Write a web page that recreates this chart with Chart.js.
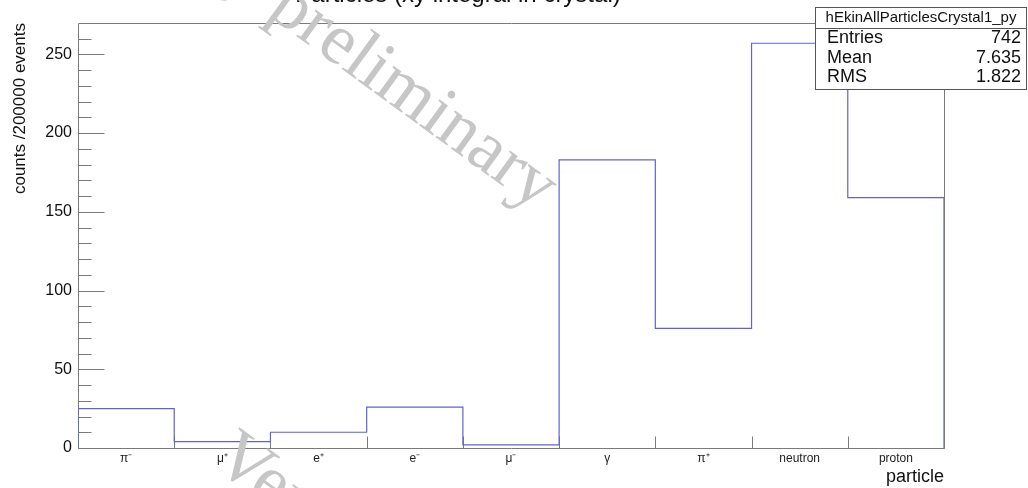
<!DOCTYPE html>
<html>
<head>
<meta charset="utf-8">
<script src="https://cdn.jsdelivr.net/npm/chart.js@4"></script>
<style>
  html, body { margin: 0; padding: 0; background: #ffffff; }
  #wrap { width: 1028px; height: 488px; position: relative; }
</style>
</head>
<body>
<div id="wrap"><canvas id="c"></canvas></div>
<script>
// Particle species (one histogram bin each) and their counts
const particles = ['π⁻', 'μ⁺', 'e⁺', 'e⁻', 'μ⁻', 'γ', 'π⁺', 'neutron', 'proton'];
const counts = [25, 4, 10, 26, 2, 183, 76, 257, 159];
const yTickValues = [0, 50, 100, 150, 200, 250];

// Statistics box
const statsName = 'hEkinAllParticlesCrystal1_py';
const statsLabels = ['Entries', 'Mean', 'RMS'];
const statsValues = ['742', '7.635', '1.822'];

const histTitle = 'Particles (xy integral in crystal)';
const watermark = 'Very preliminary';

const SANS = '"Liberation Sans", Arial, Helvetica, sans-serif';
const SERIF = '"Liberation Serif", "Times New Roman", serif';
const FRAME = '#7a7a7a';
const LINE = '#6262d4';

// Step outline of the histogram: bin i covers [i+1, i+2)
const stepPoints = [{ x: 1, y: 0 }]
  .concat(counts.map((c, i) => ({ x: i + 1, y: c })))
  .concat([{ x: counts.length + 1, y: counts[counts.length - 1] }, { x: counts.length + 1, y: 0 }]);

const yMax = Math.max(...counts) * 1.05;

// Frame, inward tick marks, title, stats box and watermark
const rootStyle = {
  id: 'rootStyle',
  beforeDatasetsDraw(chart) {
    const { ctx, chartArea: a, scales: { x, y } } = chart;
    ctx.save();
    ctx.strokeStyle = FRAME;
    ctx.lineWidth = 1;
    const L = Math.round(a.left) + 0.5, R = Math.round(a.right) + 0.5;
    const T = Math.round(a.top) + 0.5, B = Math.round(a.bottom) + 0.5;
    ctx.beginPath();
    ctx.rect(L, T, R - L, B - T);
    // y ticks: major every 50, minor every 10
    for (let v = 0; v <= yMax; v += 10) {
      const py = Math.round(y.getPixelForValue(v)) + 0.5;
      const len = v % 50 === 0 ? 26 : 13;
      ctx.moveTo(L, py);
      ctx.lineTo(L + len, py);
    }
    // x ticks at bin edges
    for (let e = 1; e <= counts.length + 1; e++) {
      const px = Math.round(x.getPixelForValue(e)) + 0.5;
      ctx.moveTo(px, B);
      ctx.lineTo(px, B - 12);
    }
    ctx.stroke();
    ctx.restore();
  },
  afterDraw(chart) {
    const { ctx } = chart;
    ctx.save();

    // histogram title, running off the top edge
    ctx.fillStyle = '#111';
    ctx.font = '24px ' + SANS;
    ctx.textAlign = 'center';
    ctx.textBaseline = 'alphabetic';
    ctx.fillText(histTitle, 458, 2);

    // statistics box
    const bx = 815.5, by = 7.5, bw = 211, bh = 82;
    ctx.fillStyle = '#ffffff';
    ctx.fillRect(bx, by, bw, bh);
    ctx.strokeStyle = '#555';
    ctx.lineWidth = 1;
    ctx.strokeRect(bx, by, bw, bh);
    ctx.beginPath();
    ctx.moveTo(bx, 28.5);
    ctx.lineTo(bx + bw, 28.5);
    ctx.stroke();
    ctx.fillStyle = '#111';
    ctx.font = '15px ' + SANS;
    ctx.textAlign = 'center';
    ctx.textBaseline = 'middle';
    ctx.fillText(statsName, bx + bw / 2, 18);
    ctx.font = '18px ' + SANS;
    const rowY = [38.5, 58, 77.5];
    statsLabels.forEach((lab, i) => {
      ctx.textAlign = 'left';
      ctx.fillText(lab, 827, rowY[i]);
      ctx.textAlign = 'right';
      ctx.fillText(statsValues[i], 1021, rowY[i]);
    });

    // diagonal watermark
    ctx.fillStyle = '#c6c6c6';
    ctx.font = '72px ' + SERIF;
    ctx.textAlign = 'left';
    ctx.textBaseline = 'alphabetic';
    const ang = 36 * Math.PI / 180;
    const lead = ctx.measureText('Very ').width;
    const anchors = [
      [266 - Math.cos(ang) * lead, 14 - Math.sin(ang) * lead],
      [211, 465]
    ];
    anchors.forEach(([ax, ay]) => {
      ctx.save();
      ctx.translate(ax, ay);
      ctx.rotate(ang);
      ctx.fillText(watermark, 0, 0);
      ctx.restore();
    });
    ctx.restore();
  }
};

new Chart(document.getElementById('c'), {
  type: 'line',
  data: {
    datasets: [{
      data: stepPoints,
      stepped: 'before',
      borderColor: LINE,
      borderWidth: 1.2,
      pointRadius: 0,
      fill: false
    }]
  },
  options: {
    responsive: true,
    maintainAspectRatio: false,
    animation: false,
    events: [],
    layout: { padding: { left: 0, top: 23, right: 84, bottom: 0 } },
    plugins: { legend: { display: false }, tooltip: { enabled: false } },
    scales: {
      x: {
        type: 'linear',
        min: 1,
        max: counts.length + 1,
        grid: { display: false, drawTicks: false },
        border: { display: false },
        afterBuildTicks: s => { s.ticks = particles.map((p, i) => ({ value: i + 1.5 })); },
        afterFit: s => { s.height = 40; },
        ticks: {
          autoSkip: false,
          maxRotation: 0,
          padding: 3,
          color: '#222',
          font: { family: SANS, size: 12 },
          callback: v => particles[Math.floor(v) - 1]
        },
        title: {
          display: true,
          text: 'particle',
          align: 'end',
          color: '#111',
          font: { family: SANS, size: 18 },
          padding: { top: 0, bottom: 0 }
        }
      },
      y: {
        min: 0,
        max: yMax,
        grid: { display: false, drawTicks: false },
        border: { display: false },
        afterBuildTicks: s => { s.ticks = yTickValues.map(v => ({ value: v })); },
        afterFit: s => { s.width = 78; },
        ticks: {
          padding: 6,
          color: '#111',
          font: { family: SANS, size: 16 }
        },
        title: {
          display: true,
          text: 'counts /200000 events',
          align: 'end',
          color: '#111',
          font: { family: SANS, size: 17 },
          padding: { top: 10, bottom: 0 }
        }
      }
    }
  },
  plugins: [rootStyle]
});
</script>
</body>
</html>
